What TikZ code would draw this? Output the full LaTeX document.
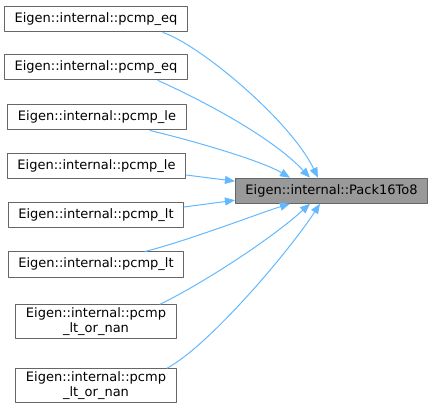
\documentclass[tikz,border=0pt]{standalone}
\usepackage{fontspec}
\setmainfont{DejaVu Sans}
\usetikzlibrary{arrows.meta}
\definecolor{frame}{HTML}{666666}
\definecolor{rootfill}{HTML}{999999}
\definecolor{callblue}{HTML}{63B8FF}

\begin{document}
\begin{tikzpicture}[x=1pt,y=-1pt,line cap=round,line join=round,
  box/.style={draw=frame,fill=white,line width=1pt,inner xsep=10pt,inner ysep=3pt,
    minimum height=25pt,align=center,font=\fontsize{13}{15}\selectfont},
  rootbox/.style={box,fill=rootfill},
  call/.style={callblue,line width=1pt,-{Triangle[length=10pt,width=8pt]}}]
  \useasboundingbox (0,0) rectangle (433,411);

  % Callers on the left
  \node[box] (eqA) at (96,19.5) {Eigen::internal::pcmp\_eq};
  \node[box] (eqB) at (96,67.5) {Eigen::internal::pcmp\_eq};
  \node[box] (leA) at (97,117.5) {Eigen::internal::pcmp\_le};
  \node[box] (leB) at (96.5,166) {Eigen::internal::pcmp\_le};
  \node[box] (ltA) at (96,215) {Eigen::internal::pcmp\_lt};
  \node[box] (ltB) at (96,264.5) {Eigen::internal::pcmp\_lt};
  \node[box] (nanA) at (96,321.7) {Eigen::internal::pcmp\\\_lt\_or\_nan};
  \node[box] (nanB) at (96,385.7) {Eigen::internal::pcmp\\\_lt\_or\_nan};

  % Called function
  \node[rootbox] (pack) at (331.5,190.7) {Eigen::internal::Pack16To8};

  % Call edges
  \draw[call] ([xshift=67pt]eqA.south) .. controls (200,45) and (290,120) .. ([xshift=-13.5pt]pack.north);
  \draw[call] ([xshift=62pt]eqB.south) .. controls (195,97) and (270,135) .. ([xshift=-21.5pt]pack.north);
  \draw[call] ([xshift=53pt]leA.south) .. controls (190,140) and (260,160) .. ([xshift=-41.5pt]pack.north);
  \draw[call] ([yshift=-9pt]leB.east) -- ([yshift=9.5pt]pack.west);
  \draw[call] ([yshift=8pt]ltA.east) -- ([yshift=-9.5pt]pack.west);
  \draw[call] ([xshift=49pt]ltB.north) .. controls (190,240) and (260,213) .. ([xshift=-41.5pt]pack.south);
  \draw[call] ([xshift=64pt]nanA.north) .. controls (200,285) and (270,240) .. ([xshift=-21.5pt]pack.south);
  \draw[call] ([xshift=71pt]nanB.north) .. controls (210,345) and (290,250) .. ([xshift=-11.5pt]pack.south);
\end{tikzpicture}
\end{document}
